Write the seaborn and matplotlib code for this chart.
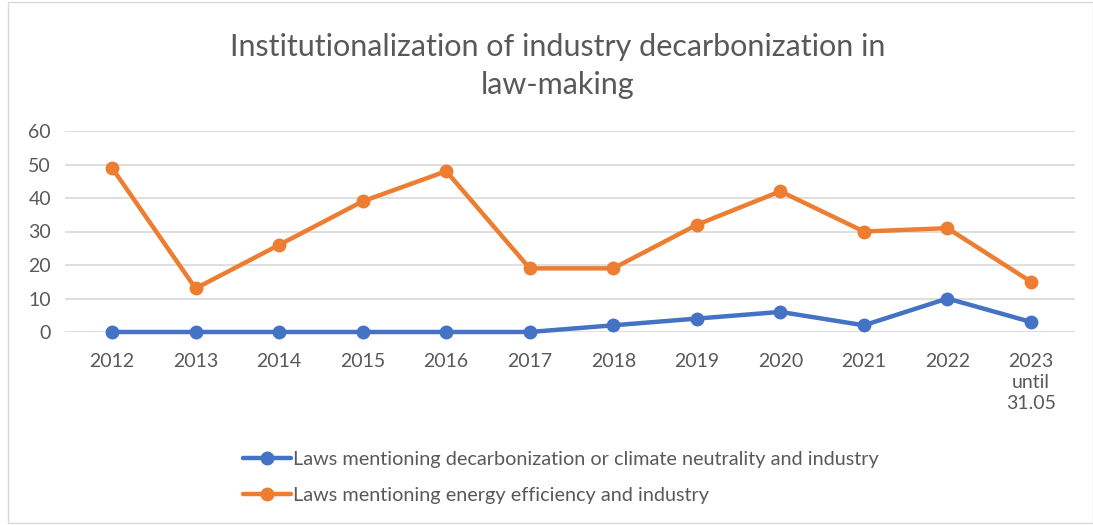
import pandas as pd
import numpy as np
import matplotlib
matplotlib.use("Agg")
import matplotlib.pyplot as plt
import seaborn as sns

# data
years = ["2012", "2013", "2014", "2015", "2016", "2017", "2018", "2019",
         "2020", "2021", "2022", "2023\nuntil\n31.05"]
decarb = [0, 0, 0, 0, 0, 0, 2, 4, 6, 2, 10, 3]
energy_eff = [49, 13, 26, 39, 48, 19, 19, 32, 42, 30, 31, 15]
series_names = ["Laws mentioning decarbonization or climate neutrality and industry",
                "Laws mentioning energy efficiency and industry"]

df = pd.DataFrame({
    "year": years * 2,
    "count": decarb + energy_eff,
    "series": [series_names[0]] * len(years) + [series_names[1]] * len(years),
})

sns.set_theme(style="white")
plt.rcParams["font.family"] = ["Lato", "DejaVu Sans"]

fig = plt.figure(figsize=(10.93, 5.25), dpi=100)
ax = fig.add_axes([65 / 1093, 1 - 332 / 525, 1010 / 1093, 201 / 525])

palette = {series_names[0]: "#4472C4", series_names[1]: "#ED7D31"}
sns.lineplot(data=df, x="year", y="count", hue="series", palette=palette,
             sort=False, marker="o", markersize=10, markeredgewidth=0,
             linewidth=3.2, ax=ax, clip_on=False, zorder=3)

ax.set_ylim(0, 60)
ax.set_yticks(range(0, 61, 10))
ax.set_xlim(-0.563, 11.527)
ax.grid(axis="y", color="#D9D9D9", linewidth=1.2)
ax.set_axisbelow(True)
for s in ax.spines.values():
    s.set_visible(False)
ax.tick_params(axis="both", length=0, labelsize=14, colors="#595959")
ax.tick_params(axis="x", pad=15)
ax.tick_params(axis="y", pad=10)
for lab in ax.get_xticklabels():
    lab.set_linespacing(1.3)
ax.set_xlabel("")
ax.set_ylabel("")

handles, labels = ax.get_legend_handles_labels()
ax.get_legend().remove()
fig.legend(handles, labels, loc="upper left", bbox_to_anchor=(225 / 1093, 1 - 433 / 525),
           frameon=False, fontsize=14.3, handlelength=2.4, handletextpad=0.1,
           labelspacing=0.95, labelcolor="#595959")

fig.text(0.51, 1 - 66 / 525, "Institutionalization of industry decarbonization in\nlaw-making",
         ha="center", va="center", fontsize=22, color="#595959", linespacing=1.45)

# faint chart border
fig.patches.append(plt.Rectangle((8 / 1093, 2 / 525), 1085 / 1093, 521 / 525,
                                 transform=fig.transFigure, fill=False,
                                 edgecolor="#D9D9D9", linewidth=1))

fig.savefig("out.png", dpi=100)
